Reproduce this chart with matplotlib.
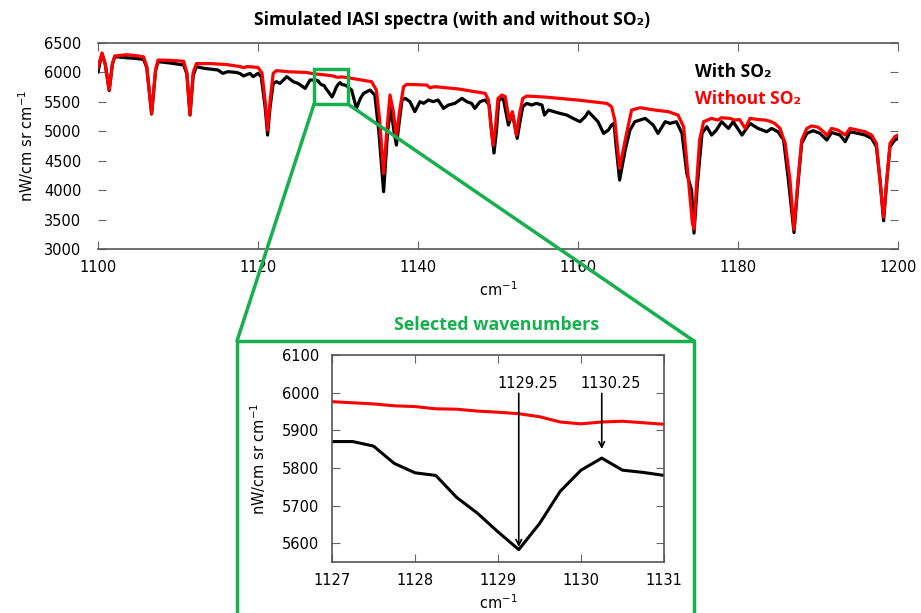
import matplotlib
matplotlib.use("Agg")
import matplotlib.pyplot as plt
from matplotlib.patches import Rectangle, ConnectionPatch

# Spectra (wavenumber in cm-1, radiance in nW/cm2 sr cm-1)
wn_with = [1100.0, 1100.5, 1100.9, 1101.4, 1101.8, 1102.1, 1103.5, 1104.5, 1105.7, 1106.1,
           1106.7, 1107.2, 1107.5, 1109.0, 1110.0, 1110.7, 1111.1, 1111.5, 1111.9, 1112.3,
           1113.3, 1115.0, 1115.6, 1116.2, 1117.3, 1117.75, 1118.2, 1119.0, 1119.4, 1120.0,
           1120.4, 1120.9, 1121.2, 1121.5, 1121.9, 1122.3, 1122.75, 1123.6, 1124.4, 1125.0,
           1125.9, 1126.5,
           1127.0, 1127.25, 1127.5, 1127.75, 1128.0, 1128.25, 1128.5, 1128.75, 1129.0, 1129.25,
           1129.5, 1129.75, 1130.0, 1130.25, 1130.5, 1130.75, 1131.0,
           1131.7, 1132.3, 1132.8, 1133.2, 1134.0, 1134.6, 1135.1, 1135.7, 1136.2, 1136.6,
           1137.0, 1137.3, 1137.7, 1138.0, 1138.4, 1139.0, 1139.6, 1140.25, 1140.7, 1141.3,
           1141.9, 1142.5, 1143.2, 1143.8, 1144.6, 1145.5, 1146.1, 1146.7, 1147.1, 1147.75,
           1148.4, 1148.9, 1149.2, 1149.5, 1149.8, 1150.1, 1150.5, 1150.7, 1151.3, 1151.8,
           1152.4, 1152.8, 1153.1, 1153.6, 1154.2, 1154.8, 1155.5, 1155.8, 1156.3, 1157.0,
           1157.75, 1158.6, 1159.4, 1160.25, 1160.9, 1161.3, 1161.9, 1162.5, 1163.2, 1163.8,
           1164.2, 1164.5, 1164.8, 1165.2, 1165.9, 1166.5, 1167.1, 1167.75, 1168.4, 1169.4,
           1170.0, 1170.9, 1171.5, 1172.3, 1173.0, 1173.6, 1174.2, 1174.5, 1174.9, 1175.5,
           1176.1, 1176.7, 1177.3, 1177.95, 1178.8, 1179.4, 1180.5, 1181.5, 1182.5, 1183.6,
           1184.2, 1185.0, 1185.7, 1186.3, 1187.0, 1187.5, 1187.96, 1188.6, 1189.4, 1190.25,
           1191.1, 1191.7, 1192.75, 1193.4, 1194.0, 1195.0, 1195.9, 1196.7, 1197.3, 1197.75,
           1198.2, 1198.6, 1199.0, 1199.6, 1200.0]
rad_with = [6010, 6320, 6140, 5690, 6140, 6268, 6250, 6240, 6222, 6080,
            5293, 6030, 6183, 6160, 6140, 6126, 5980, 5276, 5950, 6098,
            6069, 6041, 5984, 6013, 6000, 5980, 5940, 5984, 5928, 5984,
            5928, 5400, 4936, 5400, 5814, 5843, 5814, 5928, 5843, 5814,
            5729, 5871,
            5870, 5870, 5858, 5812, 5787, 5780, 5722, 5680, 5630, 5583,
            5652, 5738, 5794, 5826, 5794, 5788, 5780,
            5701, 5389, 5560, 5644, 5701, 5616, 5000, 3973, 5000, 5389,
            5000, 4766, 5200, 5531, 5560, 5503, 5333, 5503, 5475, 5531,
            5503, 5531, 5389, 5446, 5474, 5559, 5503, 5474, 5389, 5503,
            5531, 5446, 5000, 4630, 5000, 5531, 5559, 5531, 5106, 5304,
            4879, 5200, 5418, 5474, 5446, 5474, 5446, 5276, 5361, 5333,
            5304, 5276, 5219, 5163, 5248, 5333, 5248, 5163, 4964, 5021,
            5106, 5134, 4700, 4171, 4681, 5021, 5163, 5191, 5219, 5106,
            4964, 5163, 5134, 5163, 4964, 4284, 4001, 3270, 4058, 4964,
            5078, 4936, 5021, 5163, 5049, 5163, 4936, 5134, 5049, 4992,
            5049, 4992, 4851, 4171, 3280, 4114, 4794, 4964, 5010, 4964,
            4851, 4980, 4936, 4823, 4992, 4964, 4936, 4879, 4738, 4171,
            3480, 4171, 4738, 4851, 4879]

wn_without = [1100.0, 1100.5, 1100.9, 1101.4, 1101.8, 1102.1, 1103.5, 1104.5, 1105.7, 1106.1,
              1106.7, 1107.2, 1107.5, 1109.0, 1110.7, 1111.1, 1111.5, 1111.9, 1112.3, 1114.0,
              1116.0, 1117.75, 1118.2, 1118.6, 1120.0, 1120.5, 1120.9, 1121.2, 1121.5, 1121.9,
              1122.3, 1124.0, 1126.0,
              1127.0, 1127.5, 1128.0, 1128.5, 1129.0, 1129.5, 1129.75, 1130.0, 1130.5, 1131.0,
              1132.5, 1133.4, 1134.2, 1134.8, 1135.2, 1135.7, 1136.1, 1136.5, 1136.9, 1137.3,
              1137.7, 1138.2, 1138.6, 1141.1, 1141.5, 1142.1, 1145.0, 1148.4, 1148.8, 1149.1,
              1149.4, 1149.7, 1150.0, 1150.5, 1150.9, 1151.4, 1151.8, 1152.3, 1152.7, 1153.1,
              1153.6, 1156.0, 1160.0, 1163.6, 1164.2, 1164.6, 1165.2, 1165.9, 1166.7, 1167.75,
              1169.6, 1171.3, 1172.5, 1173.2, 1173.8, 1174.3, 1174.5, 1174.8, 1175.2, 1175.7,
              1176.7, 1177.5, 1177.9, 1179.0, 1179.6, 1180.2, 1180.9, 1181.5, 1182.5, 1183.4,
              1184.0, 1184.6, 1185.25, 1185.9, 1186.5, 1187.0, 1187.5, 1187.96, 1188.6, 1189.2,
              1190.0, 1190.7, 1191.1, 1191.7, 1192.5, 1193.4, 1194.0, 1195.0, 1195.9, 1196.7,
              1197.3, 1197.75, 1198.2, 1198.6, 1199.0, 1199.6, 1200.0]
rad_without = [6080, 6330, 6150, 5700, 6150, 6280, 6300, 6290, 6265, 6100,
               5300, 6050, 6210, 6205, 6190, 6000, 5280, 6000, 6150, 6150,
               6135, 6100, 6080, 6100, 6085, 5990, 5500, 5020, 5500, 5985,
               6030, 6010, 6000,
               5976, 5970, 5963, 5956, 5948, 5936, 5922, 5917, 5924, 5916,
               5880, 5860, 5843, 5700, 5200, 4280, 5000, 5616, 5350, 4910,
               5350, 5758, 5797, 5786, 5740, 5758, 5720, 5644, 5530, 5100,
               4760, 5100, 5559, 5616, 5590, 5191, 5333, 4936, 5300, 5559,
               5599, 5580, 5530, 5474, 5418, 5191, 4369, 4851, 5361, 5400,
               5361, 5333, 5276, 5078, 4171, 3434, 3340, 4058, 4851, 5163,
               5219, 5190, 5230, 5219, 5190, 5200, 5049, 5219, 5200, 5191,
               5170, 5134, 5049, 4794, 4171, 3330, 4171, 4851, 5049, 5090,
               5070, 4992, 4930, 5049, 5020, 4936, 5049, 5020, 4992, 4936,
               4794, 4171, 3540, 4171, 4794, 4908, 4936]

# zoomed window (IASI sampling 0.25 cm-1)
wn_zoom = [1127.0, 1127.25, 1127.5, 1127.75, 1128.0, 1128.25, 1128.5, 1128.75, 1129.0,
           1129.25, 1129.5, 1129.75, 1130.0, 1130.25, 1130.5, 1130.75, 1131.0]
zoom_with = [5870, 5870, 5858, 5812, 5787, 5780, 5722, 5680, 5630,
             5583, 5652, 5738, 5794, 5826, 5794, 5788, 5780]
zoom_without = [5976, 5973, 5970, 5965, 5963, 5957, 5956, 5951, 5948,
                5944, 5936, 5922, 5917, 5922, 5924, 5920, 5916]
selected = [1129.25, 1130.25]

green = '#17b04f'
bold_fam = ['Open Sans', 'DejaVu Sans']

fig = plt.figure(figsize=(9.21, 6.13), dpi=100)

# main spectrum
ax = fig.add_axes([98/921, 1-249/613, 800/921, 206/613])
ax.plot(wn_with, rad_with, color='black', lw=2.3)
ax.plot(wn_without, rad_without, color='#ff0000', lw=2.3)
ax.set_xlim(1100, 1200)
ax.set_ylim(3000, 6500)
ax.set_xticks([1100, 1120, 1140, 1160, 1180, 1200])
ax.set_yticks(range(3000, 6501, 500))
for s in ['left', 'right']:
    ax.spines[s].set_visible(False)
for s in ['top', 'bottom']:
    ax.spines[s].set_color('#555555')
    ax.spines[s].set_linewidth(1.2)
ax.tick_params(axis='both', direction='in', length=6, color='#666666', labelsize=10.5,
               top=True, right=True)
ax.tick_params(axis='y', pad=12)
ax.tick_params(axis='x', pad=8)
ax.set_ylabel('nW/cm sr cm$^{-1}$', fontsize=10.5, labelpad=6)
ax.set_xlabel('cm$^{-1}$', fontsize=10.5, labelpad=4)

ax.text(0.746, 0.86, 'With SO\u2082', transform=ax.transAxes, fontsize=12.5,
        fontweight='bold', family=bold_fam, color='black', va='center')
ax.text(0.746, 0.73, 'Without SO\u2082', transform=ax.transAxes, fontsize=12.5,
        fontweight='bold', family=bold_fam, color='#ff0000', va='center')
fig.text(452/921, 1-20/613, 'Simulated IASI spectra (with and without SO\u2082)',
         ha='center', va='center', fontsize=12.5, fontweight='bold', family=bold_fam)

# green zoom box on the main spectrum
ax.add_patch(Rectangle((1127, 5460), 4.25, 600, fill=False, ec=green, lw=2.5,
                       zorder=5, clip_on=False))

# big green frame around the inset
x0, x1, ytop = 237/921, 694/921, 1-341/613
fig.add_artist(Rectangle((x0, -0.02), x1-x0, ytop+0.02, fill=False, ec=green, lw=2.5,
                         transform=fig.transFigure))
fig.add_artist(ConnectionPatch(xyA=(1127, 5460), coordsA=ax.transData,
                               xyB=(x0, ytop), coordsB=fig.transFigure,
                               color=green, lw=2.5))
fig.add_artist(ConnectionPatch(xyA=(1131.25, 5460), coordsA=ax.transData,
                               xyB=(x1, ytop), coordsB=fig.transFigure,
                               color=green, lw=2.5))
fig.text(497/921, 1-325/613, 'Selected wavenumbers', ha='center', va='center',
         fontsize=12.8, fontweight='bold', family=bold_fam, color=green)

# inset
ai = fig.add_axes([332/921, 1-562/613, 332/921, 207/613])
ai.plot(wn_zoom, zoom_with, color='black', lw=2.2)
ai.plot(wn_zoom, zoom_without, color='#ff0000', lw=2.2)
ai.set_xlim(1127, 1131)
ai.set_ylim(5550, 6100)
ai.set_xticks([1127, 1128, 1129, 1130, 1131])
ai.set_yticks([5600, 5700, 5800, 5900, 6000, 6100])
for s in ai.spines.values():
    s.set_color('#555555')
    s.set_linewidth(1.2)
ai.tick_params(axis='both', direction='in', length=6, color='#666666', labelsize=10.5,
               top=True, right=True)
ai.tick_params(axis='y', pad=9)
ai.tick_params(axis='x', pad=8)
ai.set_ylabel('nW/cm sr cm$^{-1}$', fontsize=10.5, labelpad=10)
ai.set_xlabel('cm$^{-1}$', fontsize=10.5, labelpad=4)

tips = [5590, 5850]
for w, tip in zip(selected, tips):
    ai.annotate('', xy=(w, tip), xytext=(w, 5998),
                arrowprops=dict(arrowstyle='->', color='black', lw=1.2,
                                shrinkA=0, shrinkB=0))
    ai.text(w + 0.11, 6025, '%.2f' % w, ha='center', va='center', fontsize=10.5)

fig.savefig('out.png', dpi=100)
